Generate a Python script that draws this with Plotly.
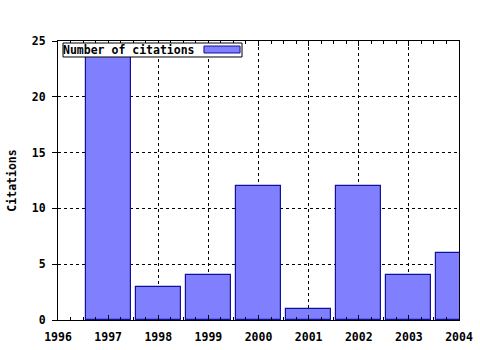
import plotly.graph_objects as go

years = [1997, 1998, 1999, 2000, 2001, 2002, 2003, 2004]
citations = [24, 3, 4, 12, 1, 12, 4, 6]
series_name = "Number of citations"
y_title = "Citations"

FONT = dict(family="DejaVu Sans Mono", size=11.5, color="black", weight="bold")

fig = go.Figure()
fig.add_trace(go.Bar(
    x=years, y=citations, width=0.9, name=series_name,
    marker=dict(color="#8080ff", line=dict(color="#10109a", width=1.2)),
    showlegend=False,
))

fig.update_layout(
    width=480, height=350,
    margin=dict(l=58, r=21, t=41, b=30, autoexpand=False),
    paper_bgcolor="white", plot_bgcolor="white",
    font=FONT,
    bargap=0,
    xaxis=dict(
        range=[1996, 2004], dtick=1, tick0=1996, tickformat="d",
        showline=True, linecolor="black", linewidth=1, mirror="ticks",
        ticks="inside", ticklen=5, tickcolor="black",
        showgrid=True, gridcolor="black", griddash="dot", gridwidth=1,
        minor=dict(dtick=0.25, ticks="inside", ticklen=3, tickcolor="black", showgrid=False),
        zeroline=False, tickfont=FONT, automargin=False, ticklabelstandoff=6,
    ),
    yaxis=dict(
        range=[0, 25], dtick=5,
        showline=True, linecolor="black", linewidth=1, mirror=True,
        ticks="outside", ticklen=5, tickcolor="black",
        showgrid=True, gridcolor="black", griddash="dot", gridwidth=1,
        zeroline=False, tickfont=FONT, automargin=False, ticklabelstandoff=4,
        title=dict(text=y_title, font=FONT, standoff=12),
    ),
)

# manual legend (text left, swatch right, boxed)
fig.add_shape(type="rect", xref="paper", yref="paper",
              x0=0.0125, x1=0.4589, y0=0.9427, y1=0.9928,
              line=dict(color="black", width=1), fillcolor="white", layer="above")
fig.add_shape(type="rect", xref="paper", yref="paper",
              x0=0.364, x1=0.454, y0=0.957, y1=0.982,
              line=dict(color="#10109a", width=1), fillcolor="#8080ff", layer="above")
fig.add_annotation(text=series_name, xref="paper", yref="paper",
                   x=0.011, y=0.968, xanchor="left", yanchor="middle",
                   showarrow=False, font=FONT, borderpad=0)

fig.write_html("out.html")
